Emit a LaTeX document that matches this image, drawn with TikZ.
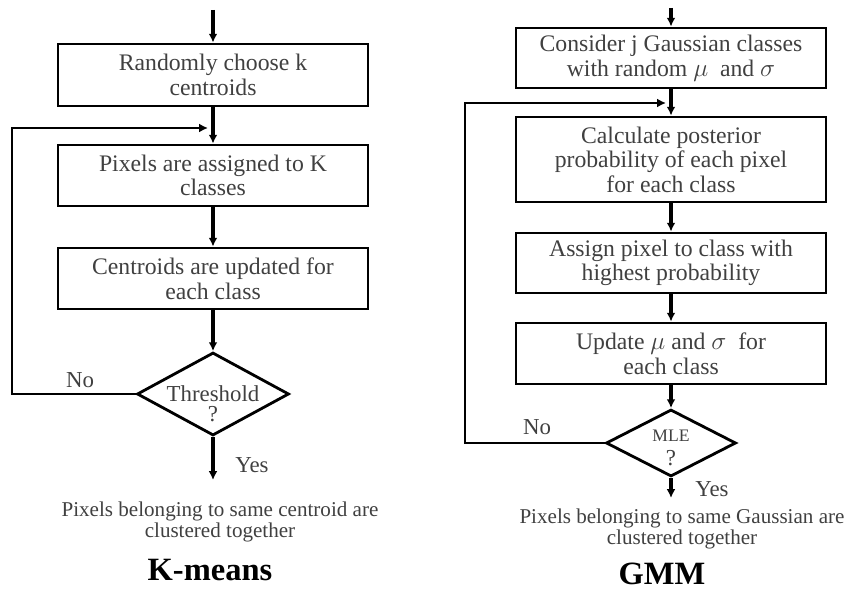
\documentclass[tikz,border=0pt]{standalone}
\usepackage{fontspec}
\setmainfont{Liberation Serif}
\usetikzlibrary{arrows.meta,shapes.geometric}

\begin{document}
\begin{tikzpicture}[x=0.02cm, y=-0.02cm,
        box/.style={draw, line width=1.6pt, minimum width=6.2cm, inner sep=2pt, align=center,
            text=black!75, font=\fontsize{13.5}{14}\selectfont},
        decision/.style={draw, diamond, line width=1.6pt, inner sep=0pt},
        dtext/.style={align=center, text=black!75, font=\fontsize{13}{11.5}\selectfont},
        flow/.style={line width=1.8pt, -{Latex[length=5pt,width=5pt]}},
        lbl/.style={text=black!75, font=\fontsize{13}{14}\selectfont},
        result/.style={align=center, text=black!75, font=\fontsize{12}{12}\selectfont},
        caption/.style={anchor=base, inner sep=0pt, font=\fontsize{18.5}{22}\bfseries}]
    \useasboundingbox (0,0) rectangle (858,590);

    % K-means flowchart
    \coordinate (kstart) at (213,10);
    \node[box, minimum height=1.24cm] (kinit) at (213,75) {Randomly choose k\\centroids};
    \node[box, minimum height=1.22cm] (kassign) at (213,175.5) {Pixels are assigned to K\\classes};
    \node[box, minimum height=1.22cm] (kupdate) at (213,278.5) {Centroids are updated for\\each class};
    \node[decision, minimum width=3.04cm, minimum height=1.66cm] (kthr) at (213,394) {};
    \node[dtext] (kthrtext) at (213,404) {Threshold\\?};
    \coordinate (kback) at (12,128);
    \coordinate (kjoin) at (208,128);
    \coordinate (kend) at (213,480);

    \draw[flow] (kstart) -- (kinit.north);
    \draw[flow] (kinit.south) -- (kassign.north);
    \draw[flow] (kassign.south) -- (kupdate.north);
    \draw[flow] (kupdate.south) -- (kthr.north);
    \draw[flow] (kthr.south) -- (kend);
    \draw[flow, line width=1.6pt] (kthr.west) -| (kback) -- (kjoin);

    \node[lbl] (kno) at (80,380) {No};
    \node[lbl] (kyes) at (252,465) {Yes};
    \node[result] (kres) at (220,522) {Pixels belonging to same centroid are\\clustered together};
    \node[caption] (ktitle) at (210,581) {K-means};

    % GMM flowchart
    \coordinate (gstart) at (671,8);
    \node[box, minimum height=1.2cm] (ginit) at (671,58) {Consider j Gaussian classes\\with random $\mu$\ \ and $\sigma$};
    \node[box, minimum height=1.7cm] (gpost) at (671,159.5) {Calculate posterior\\probability of each pixel\\for each class};
    \node[box, minimum height=1.2cm] (gassign) at (671,263) {Assign pixel to class with\\highest probability};
    \node[box, minimum height=1.22cm] (gupdate) at (671,353.5) {Update $\mu$\ and $\sigma$\ \ for\\each class};
    \node[decision, minimum width=2.6cm, minimum height=1.34cm] (gmle) at (671,443) {};
    \node[dtext, font=\fontsize{10}{13.5}\selectfont] (gmletext) at (671,448) {MLE\\{\fontsize{13}{13.5}\selectfont ?}};
    \coordinate (gback) at (465,103);
    \coordinate (gjoin) at (666,103);
    \coordinate (gend) at (671,498);

    \draw[flow] (gstart) -- (ginit.north);
    \draw[flow] (ginit.south) -- (gpost.north);
    \draw[flow] (gpost.south) -- (gassign.north);
    \draw[flow] (gassign.south) -- (gupdate.north);
    \draw[flow] (gupdate.south) -- (gmle.north);
    \draw[flow] (gmle.south) -- (gend);
    \draw[flow, line width=1.6pt] (gmle.west) -| (gback) -- (gjoin);

    \node[lbl] (gno) at (537,427) {No};
    \node[lbl] (gyes) at (712,489) {Yes};
    \node[result] (gres) at (682,529) {Pixels belonging to same Gaussian are\\clustered together};
    \node[caption] (gtitle) at (662,584) {GMM};
\end{tikzpicture}
\end{document}
